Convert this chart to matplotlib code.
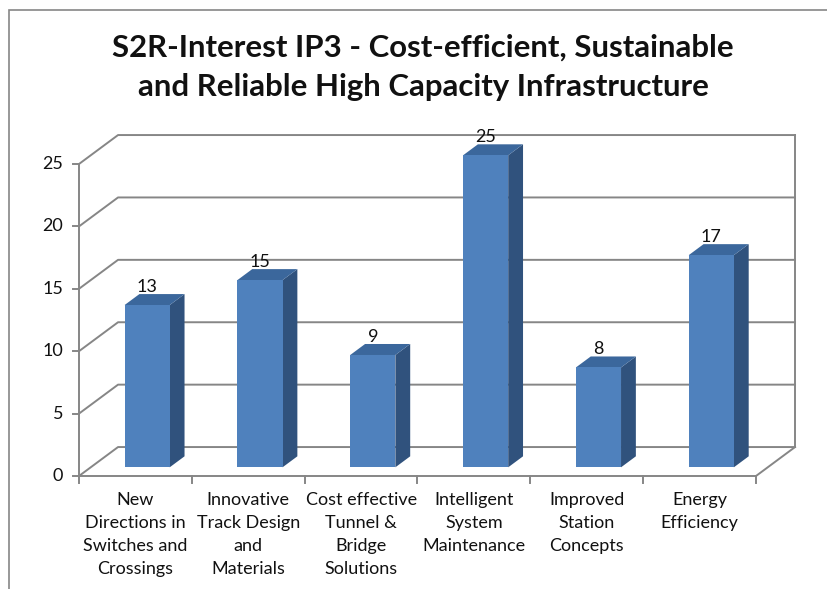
import matplotlib
matplotlib.use('Agg')
import matplotlib.pyplot as plt
from matplotlib.patches import Polygon, Rectangle

plt.rcParams['font.family'] = ['Lato', 'DejaVu Sans']

# datos
categories = ['New\nDirections in\nSwitches and\nCrossings',
              'Innovative\nTrack Design\nand\nMaterials',
              'Cost effective\nTunnel &\nBridge\nSolutions',
              'Intelligent\nSystem\nMaintenance',
              'Improved\nStation\nConcepts',
              'Energy\nEfficiency']
values = [13, 15, 9, 25, 8, 17]
yticks = [0, 5, 10, 15, 20, 25]
title = 'S2R-Interest IP3 - Cost-efficient, Sustainable\nand Reliable High Capacity Infrastructure'

W, H = 828, 589
fig = plt.figure(figsize=(W / 100, H / 100), dpi=100)
ax = fig.add_axes([79 / W, 1 - 476 / H, (756 - 79) / W, (476 - 164) / H])
ax.set_xlim(0, len(categories))
ax.set_ylim(0, 25)
ax.axis('off')

# profundidad oblicua (en unidades de datos)
DX, DY = 0.346, 2.32
grid_c = '#868686'
txt_c = '#111111'

def off(x, y, z):
    return (x + DX * z, y + DY * z)

n = len(categories)
# paredes
for v in yticks:
    ax.plot(*zip(off(0, v, 0), off(0, v, 1), off(n, v, 1)), color=grid_c, lw=1.4, clip_on=False, zorder=1)
ax.plot(*zip(off(n, 0, 1), off(n, 25, 1)), color=grid_c, lw=1.4, clip_on=False, zorder=1)
ax.plot(*zip(off(0, 0, 0), off(n, 0, 0), off(n, 0, 1)), color=grid_c, lw=1.4, clip_on=False, zorder=1)
ax.plot([0, 0], [0, 25], color=grid_c, lw=1.4, clip_on=False, zorder=1)

# ticks
for v in yticks:
    ax.plot([-0.055, 0], [v, v], color=grid_c, lw=1.4, clip_on=False)
    ax.text(-0.14, v, str(v), ha='right', va='center', fontsize=13, color=txt_c)
for i in range(n + 1):
    ax.plot([i, i], [0, -0.55], color=grid_c, lw=1.4, clip_on=False)
for i, c in enumerate(categories):
    ax.text(i + 0.5, -1.25, c, ha='center', va='top', fontsize=13, color=txt_c, linespacing=1.56)

# barras
bw = 0.4
z0, z1 = 0.3, 0.68
for i, v in enumerate(values):
    xl = i + 0.5 - bw / 2
    xr = xl + bw
    front = [off(xl, 0, z0), off(xr, 0, z0), off(xr, v, z0), off(xl, v, z0)]
    side = [off(xr, 0, z0), off(xr, 0, z1), off(xr, v, z1), off(xr, v, z0)]
    top = [off(xl, v, z0), off(xr, v, z0), off(xr, v, z1), off(xl, v, z1)]
    ax.add_patch(Polygon(side, closed=True, fc='#30527D', ec='none', zorder=3, clip_on=False))
    ax.add_patch(Polygon(top, closed=True, fc='#3B679C', ec='none', zorder=3, clip_on=False))
    ax.add_patch(Polygon(front, closed=True, fc='#4F81BD', ec='none', zorder=4, clip_on=False))
    lx, ly = off(i + 0.5, v, z1)
    ax.text(i + 0.5 + DX * z0, ly - 0.05, str(v), ha='center', va='bottom', fontsize=13, color=txt_c, zorder=5)

fig.text(423 / W, 1 - 67 / H, title, ha='center', va='center', fontsize=22.4, fontweight='bold',
         linespacing=1.5, color=txt_c)

fig.patches.append(Rectangle((9 / W, -0.05), 1.1, 1 - 10 / H + 0.05, transform=fig.transFigure,
                             fill=False, ec=grid_c, lw=1.2))

fig.savefig('out.png', dpi=100)
